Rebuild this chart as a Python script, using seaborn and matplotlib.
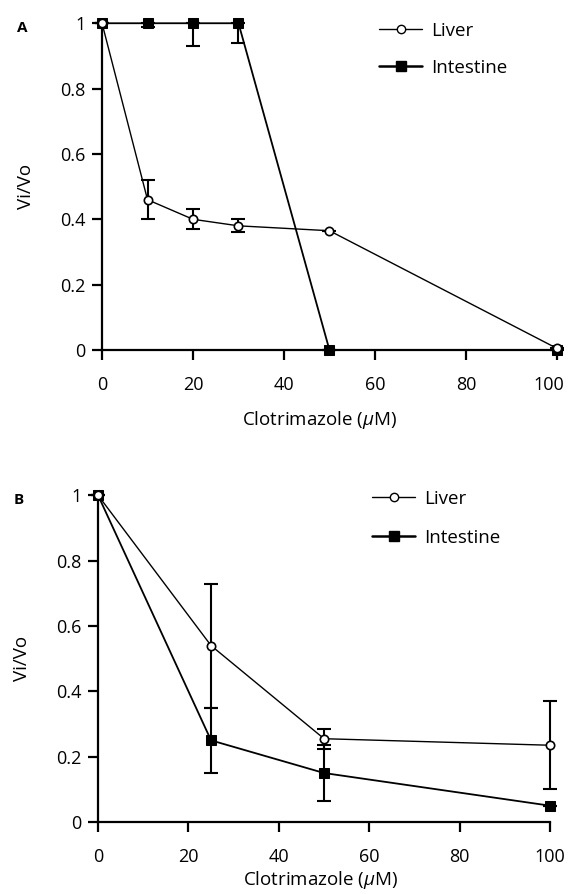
import numpy as np
import pandas as pd
import matplotlib
matplotlib.use("Agg")
import matplotlib.pyplot as plt
import matplotlib.transforms as mtransforms
import seaborn as sns
from matplotlib.lines import Line2D

# panel A
conc_a = [0, 10, 20, 30, 50, 100]
liver_a = [1.0, 0.46, 0.40, 0.38, 0.365, 0.005]
liver_a_lo = [0, 0.06, 0.03, 0.02, 0.0, 0.0]
liver_a_hi = [0, 0.06, 0.03, 0.02, 0.0, 0.0]
intest_a = [1.0, 1.0, 1.0, 1.0, 0.0, 0.0]
intest_a_lo = [0, 0.01, 0.07, 0.06, 0.0, 0.0]
intest_a_hi = [0, 0.0, 0.0, 0.0, 0.0, 0.0]

# panel B
conc_b = [0, 25, 50, 100]
liver_b = [1.0, 0.54, 0.255, 0.235]
liver_b_err = [0, 0.19, 0.03, 0.135]
intest_b = [1.0, 0.25, 0.15, 0.05]
intest_b_err = [0, 0.10, 0.085, 0.0]

sns.set_style("ticks")
plt.rcParams['font.family'] = ['Open Sans', 'DejaVu Sans']
plt.rcParams['mathtext.fontset'] = 'custom'
plt.rcParams['mathtext.it'] = 'Open Sans:italic'
plt.rcParams['text.color'] = 'black'
plt.rcParams['axes.labelcolor'] = 'black'
plt.rcParams['xtick.color'] = 'black'
plt.rcParams['ytick.color'] = 'black'

fig = plt.figure(figsize=(5.7, 8.94), dpi=100)
ax_a = fig.add_axes([0.179, 0.6085, 0.798, 0.3655])
ax_b = fig.add_axes([0.172, 0.0805, 0.793, 0.3655])


def draw_panel(ax, conc, liver, l_lo, l_hi, intest, i_lo, i_hi, letter,
               leg_xy, leg_space, xlab_xy, ylab_x):
    df = pd.DataFrame({'conc': conc * 2,
                       'vivo': liver + intest,
                       'tissue': ['Liver'] * len(conc) + ['Intestine'] * len(conc)})
    ax.errorbar(conc, liver, yerr=[l_lo, l_hi], fmt='none', ecolor='black',
                elinewidth=1.5, capsize=5, capthick=1.5, clip_on=False, zorder=2)
    ax.errorbar(conc, intest, yerr=[i_lo, i_hi], fmt='none', ecolor='black',
                elinewidth=1.5, capsize=5, capthick=1.5, clip_on=False, zorder=2)
    sns.lineplot(data=df[df.tissue == 'Liver'], x='conc', y='vivo', color='black',
                 marker='o', markersize=6, mfc='white', mec='black', mew=1.2,
                 lw=1.0, ax=ax, clip_on=False, zorder=4, legend=False)
    sns.lineplot(data=df[df.tissue == 'Intestine'], x='conc', y='vivo', color='black',
                 marker='s', markersize=7, mfc='black', mec='black',
                 lw=1.3, ax=ax, clip_on=False, zorder=3, legend=False)
    ax.set_xlim(0, 100)
    ax.set_ylim(0, 1)
    ax.set_xticks([0, 20, 40, 60, 80, 100])
    ax.set_yticks([0, 0.2, 0.4, 0.6, 0.8, 1])
    ax.set_yticklabels(['0', '0.2', '0.4', '0.6', '0.8', '1'])
    ax.tick_params(labelsize=13, width=1.6, length=7, color='black')
    ax.tick_params(axis='x', pad=12)
    ax.tick_params(axis='y', pad=5)
    for s in ['left', 'bottom']:
        ax.spines[s].set_linewidth(1.6)
        ax.spines[s].set_color('black')
    sns.despine(ax=ax)
    ax.set_xlabel(r'Clotrimazole ($\mathit{\mu}$M)', fontsize=13.5)
    ax.xaxis.set_label_coords(*xlab_xy)
    ax.set_ylabel('Vi/Vo', fontsize=13.5)
    ax.yaxis.set_label_coords(ylab_x, 0.5)
    handles = [Line2D([], [], color='black', lw=1.0, marker='o', markersize=6,
                      mfc='white', mec='black'),
               Line2D([], [], color='black', lw=1.8, marker='s', markersize=7,
                      mfc='black')]
    ax.legend(handles, ['Liver', 'Intestine'], loc='upper left',
              bbox_to_anchor=leg_xy, frameon=False, fontsize=13.5,
              handlelength=2.3, handletextpad=0.5, labelspacing=leg_space,
              borderpad=0, borderaxespad=0)
    ax.text(-0.187, 0.985, letter, transform=ax.transAxes, fontsize=11,
            fontweight='bold', va='center')


draw_panel(ax_a, conc_a, liver_a, liver_a_lo, liver_a_hi,
           intest_a, intest_a_lo, intest_a_hi, 'A',
           (0.609, 1.005), 1.02, (0.479, -0.18), -0.147)
draw_panel(ax_b, conc_b, liver_b, liver_b_err, liver_b_err,
           intest_b, intest_b_err, intest_b_err, 'B',
           (0.606, 1.017), 1.12, (0.493, -0.145), -0.148)

# last tick label in panel A sits a little left of its tick
lab = ax_a.get_xticklabels()[-1]
lab.set_transform(lab.get_transform() +
                  mtransforms.ScaledTranslation(-0.08, 0, fig.dpi_scale_trans))

fig.savefig('out.png', dpi=100)
